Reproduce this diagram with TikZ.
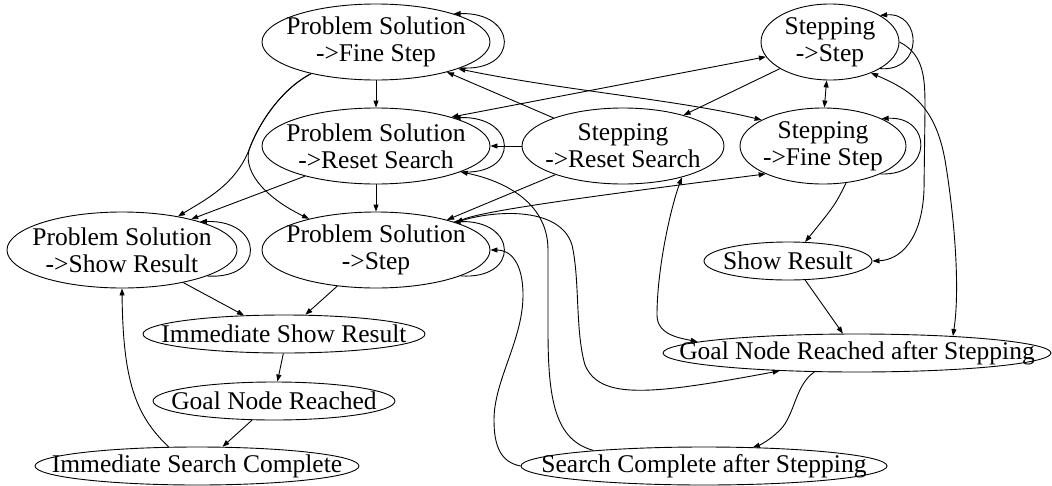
\documentclass[tikz,border=0pt]{standalone}
\usepackage{fontspec}
\setmainfont{Liberation Serif}
\usetikzlibrary{shapes.geometric,arrows.meta}
\begin{document}
\begin{tikzpicture}[x=1pt,y=-1pt,
  state/.style={draw, ellipse, inner sep=0pt, line width=0.9pt},
  txt/.style={inner sep=0pt, align=center, font=\fontsize{25.5}{27}\selectfont},
  tr/.style={line width=0.9pt, -{Triangle[length=7pt,width=5pt]}},
  trb/.style={line width=0.9pt, {Triangle[length=7pt,width=5pt]}-{Triangle[length=7pt,width=5pt]}}]
\fill[white] (0,0) rectangle (1052,485);
\useasboundingbox (0,0) rectangle (1052,485);

% states (outline) and their labels
\node[state, minimum width=228pt, minimum height=76pt] (psf) at (376,42) {};
\node[txt] (psfT) at (psf.center) {Problem Solution\\->Fine Step};
\node[state, minimum width=228pt, minimum height=76pt] (psr) at (376,146) {};
\node[txt] (psrT) at (psr.center) {Problem Solution\\->Reset Search};
\node[state, minimum width=202pt, minimum height=76pt] (srs) at (623,146) {};
\node[txt] (srsT) at (srs.center) {Stepping\\->Reset Search};
\node[state, minimum width=138pt, minimum height=76pt] (ss) at (830,42) {};
\node[txt] (ssT) at (ss.center) {Stepping\\->Step};
\node[state, minimum width=166pt, minimum height=76pt] (sfs) at (823,146) {};
\node[txt] (sfsT) at (sfs.center) {Stepping\\->Fine Step};
\node[state, minimum width=230pt, minimum height=76pt] (pssr) at (122,250) {};
\node[txt] (pssrT) at (pssr.center) {Problem Solution\\->Show Result};
\node[state, minimum width=228pt, minimum height=76pt] (pss) at (376,250) {};
\node[txt] (pssT) at (pss.center) {Problem Solution\\->Step};
\node[state, minimum width=168pt, minimum height=38pt] (sr) at (788,261) {};
\node[txt] (srT) at (sr.center) {Show Result};
\node[state, minimum width=282pt, minimum height=38pt] (isr) at (284,334) {};
\node[txt] (isrT) at (isr.center) {Immediate Show Result};
\node[state, minimum width=242pt, minimum height=38pt] (gnr) at (274,401) {};
\node[txt] (gnrT) at (gnr.center) {Goal Node Reached};
\node[state, minimum width=324pt, minimum height=38pt] (isc) at (197,466) {};
\node[txt] (iscT) at (isc.center) {Immediate Search Complete};
\node[state, minimum width=388pt, minimum height=38pt] (gnrs) at (857,353) {};
\node[txt] (gnrsT) at (gnrs.center) {Goal Node Reached after Stepping};
\node[state, minimum width=366pt, minimum height=38pt] (scs) at (704,466) {};
\node[txt] (scsT) at (scs.center) {Search Complete after Stepping};

% self loops
\draw[tr] (psf.-17) .. controls (520,72) and (518,12) .. (psf.20);
\draw[tr] (psr.-17) .. controls (520,176) and (518,116) .. (psr.20);
\draw[tr] (pss.-17) .. controls (520,280) and (518,220) .. (pss.20);
\draw[tr] (pssr.-17) .. controls (266,280) and (264,220) .. (pssr.20);
\draw[tr] (ss.-28) .. controls (924,72) and (922,12) .. (ss.28);
\draw[tr] (sfs.-26) .. controls (934,176) and (932,116) .. (sfs.25);

% straight transitions
\draw[tr] (psf.south) -- (psr.north);
\draw[tr] (psr.south) -- (pss.north);
\draw[tr] (psr.-157) -- (pssr.24);
\draw[tr] (srs.west) -- (psr.east);
\draw[tr] (srs.158) -- (psf.-23);
\draw[tr] (srs.-157) -- (pss.23);
\draw[tr] (ss.-152) -- (srs.27);
\draw[trb] (psr.21) -- (ss.-167);
\draw[trb] (ss.-95) -- (sfs.88);
\draw[tr] (sr.-48) -- (gnrs.126);
\draw[tr] (pssr.-28) -- (isr.155);
\draw[tr] (pss.-137) -- (isr.42);
\draw[tr] (isr.-92) -- (gnr.80);
\draw[tr] (gnr.-139) -- (isc.37);

% curved transitions
\draw[trb] (psf.-18) .. controls (560,90) and (680,100) .. (sfs.157);
\draw[trb] (pss.19) .. controls (480,212) and (560,200) .. (sfs.-154);
\draw[tr] (sfs.-58) .. controls (835,205) .. (sr.48);
\draw[tr] (psf.-154) .. controls (280,90) and (258,125) .. (249,150)
  .. controls (235,185) and (205,200) .. (pssr.31);
\draw[tr] (psf.-154) .. controls (280,90) and (258,125) .. (249,150)
  .. controls (243,175) and (270,200) .. (pss.155);
\draw[tr] (isc.146) .. controls (135,415) and (123,380) .. (pssr.south);
\draw[tr] (scs.172) .. controls (555,440) and (548,400) .. (548,330) -- (548,250)
  .. controls (548,200) and (500,180) .. (psr.-17);
\draw[tr] (scs.west) .. controls (500,462) and (494,445) .. (494,420)
  .. controls (494,380) and (523,340) .. (523,295)
  .. controls (523,262) and (510,250) .. (pss.east);
\draw[tr] (pss.19) .. controls (490,210) and (560,205) .. (572,245)
  .. controls (580,280) and (575,330) .. (585,365)
  .. controls (600,400) and (650,395) .. (gnrs.-167);
\draw[trb] (srs.-28) .. controls (670,210) and (657,270) .. (657,315)
  .. controls (657,335) and (680,338) .. (gnrs.176);
\draw[tr] (ss.east) .. controls (925,55) and (925,80) .. (925,110) -- (924,190)
  .. controls (922,240) and (900,260) .. (sr.east);
\draw[trb] (ss.-37) .. controls (910,90) and (935,105) .. (945,160)
  .. controls (955,220) and (960,290) .. (gnrs.10);
\draw[tr] (gnrs.-156) .. controls (795,385) and (795,415) .. (780,430)
  .. controls (770,440) and (760,445) .. (scs.21);
\end{tikzpicture}
\end{document}
